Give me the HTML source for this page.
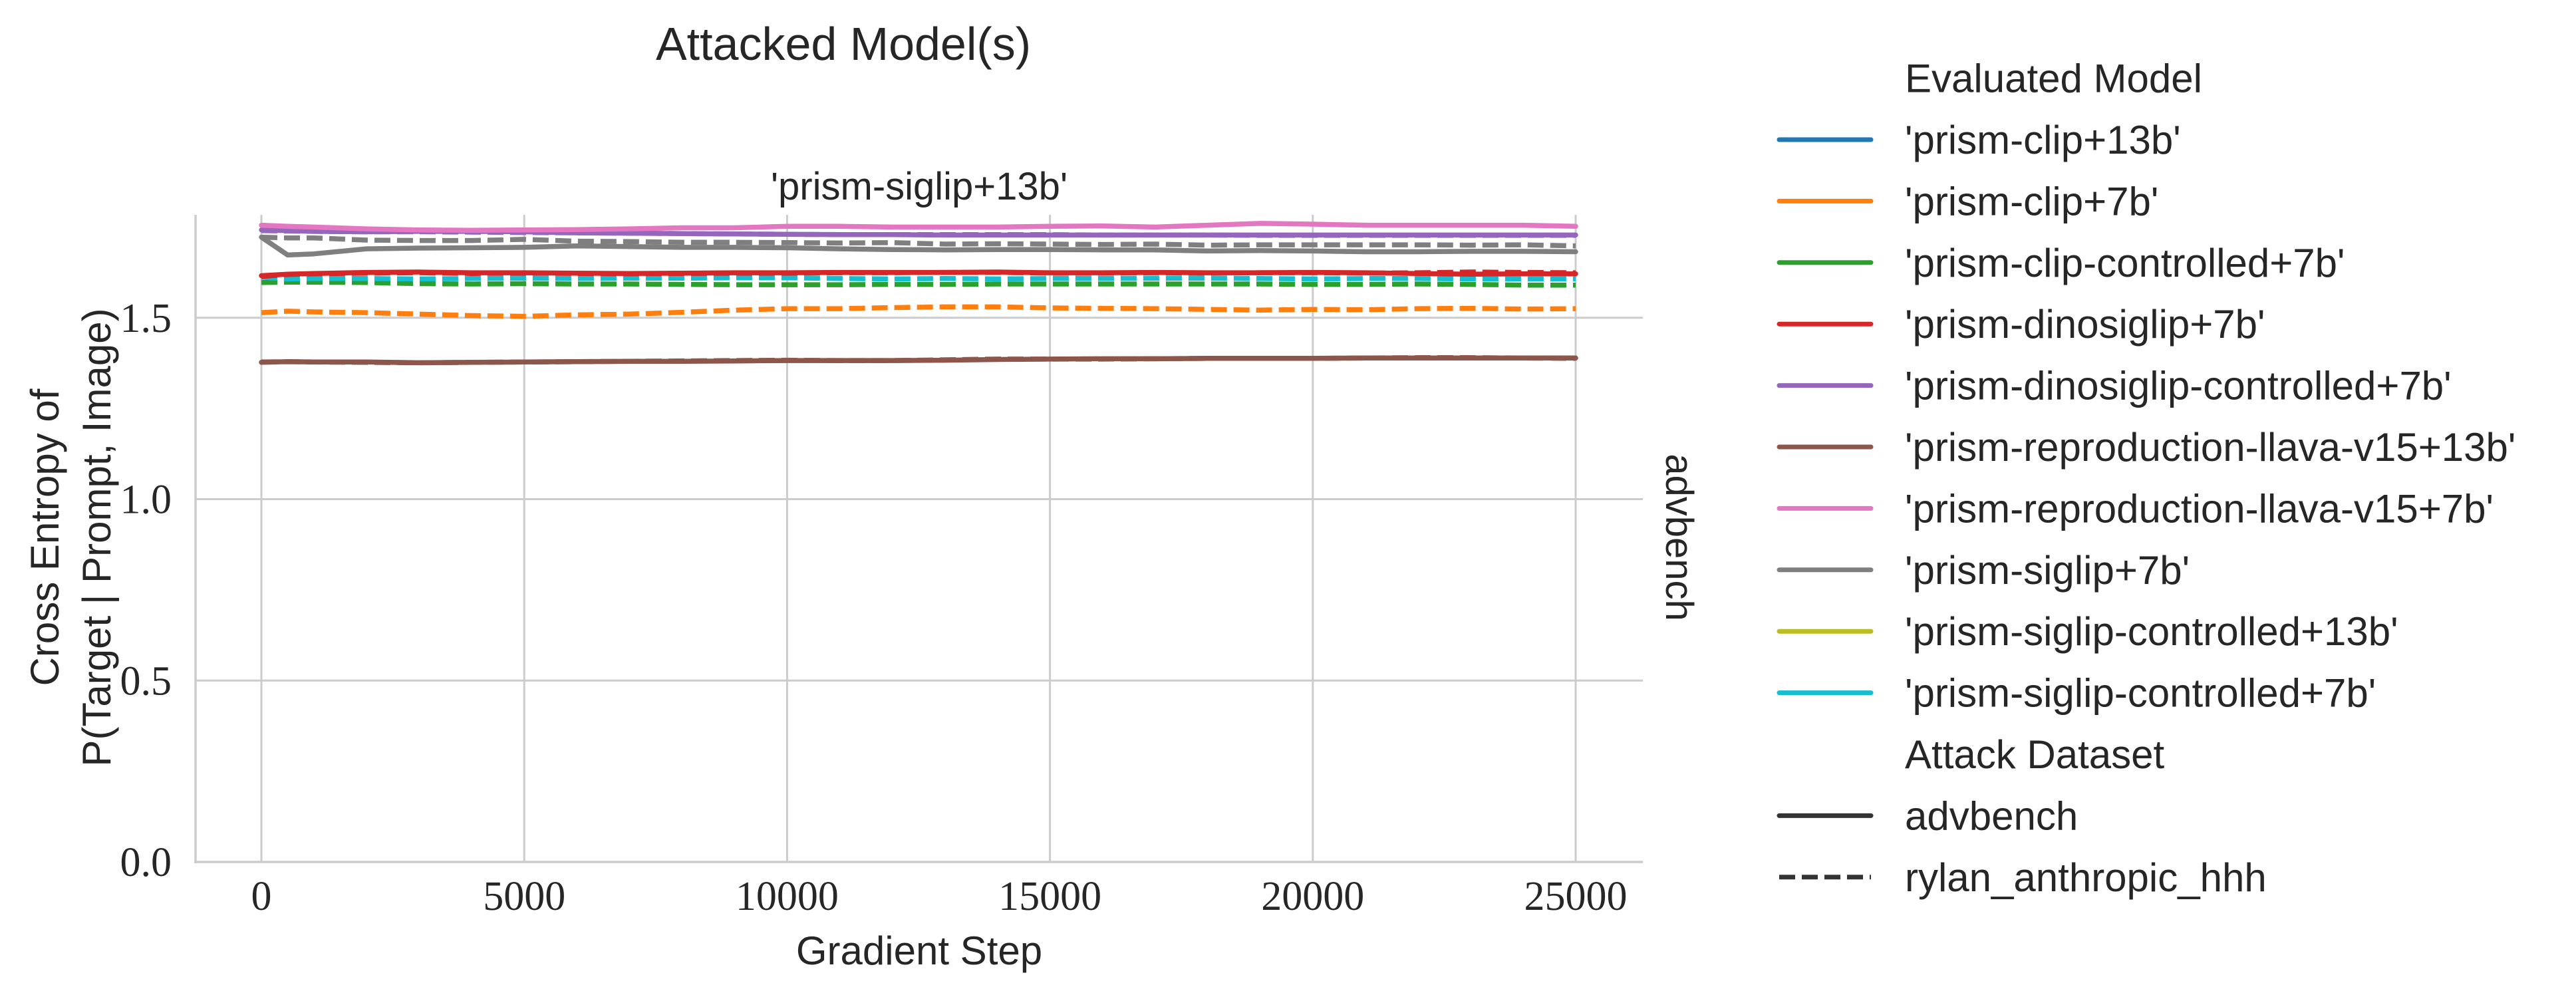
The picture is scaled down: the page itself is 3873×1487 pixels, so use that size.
<!DOCTYPE html>
<html><head><meta charset="utf-8"><style>
html,body{margin:0;padding:0;background:#fff}
svg{display:block}
.sans{font-family:"Liberation Sans",sans-serif;fill:#262626}
.serif{font-family:"Liberation Serif",serif;fill:#262626}
</style></head><body>
<svg id="chart" width="3873" height="1487" viewBox="0 0 3873 1487" xmlns="http://www.w3.org/2000/svg">
<text class="sans" x="1268" y="90" font-size="70" text-anchor="middle">Attacked Model(s)</text>
<text class="sans" x="1382" y="300" font-size="58" text-anchor="middle">'prism-siglip+13b'</text>
<g id="grid"></g>
<g id="series"></g>
<g id="axes"></g>
<text class="sans" x="1382" y="1450" font-size="60" text-anchor="middle">Gradient Step</text>
<g transform="translate(88,808) rotate(-90)">
<text class="sans" x="0" y="0" font-size="60" text-anchor="middle">Cross Entropy of</text>
<text class="sans" x="0" y="78" font-size="60" text-anchor="middle">P(Target | Prompt, Image)</text>
</g>
<text class="sans" transform="translate(2505,808) rotate(90)" font-size="58" text-anchor="middle">advbench</text>
<g id="legend"></g>
</svg>
<script>
const steps=[0,500,1000,2000,3000,4000,5000,6000,7000,8000,9000,10000,11000,12000,13000,14000,15000,16000,17000,18000,19000,20000,21000,22000,23000,24000,25000];
const xTicks=[0,5000,10000,15000,20000,25000];
const yTicks=[0.0,0.5,1.0,1.5];
const pinkAdv=[1.755,1.752,1.750,1.745,1.742,1.741,1.742,1.743,1.745,1.748,1.748,1.752,1.752,1.750,1.750,1.750,1.752,1.753,1.750,1.755,1.760,1.758,1.755,1.755,1.755,1.755,1.752];
const purpleAdv=[1.742,1.740,1.738,1.737,1.738,1.738,1.737,1.734,1.733,1.732,1.731,1.730,1.729,1.729,1.728,1.728,1.728,1.728,1.728,1.728,1.728,1.728,1.728,1.728,1.728,1.728,1.728];
const purpleHhh=[1.740,1.739,1.738,1.737,1.737,1.736,1.735,1.734,1.733,1.732,1.731,1.730,1.729,1.729,1.729,1.729,1.729,1.728,1.728,1.728,1.727,1.727,1.727,1.727,1.727,1.727,1.727];
const grayHhh=[1.722,1.720,1.720,1.714,1.713,1.713,1.716,1.711,1.710,1.708,1.708,1.707,1.706,1.707,1.703,1.704,1.703,1.702,1.703,1.700,1.701,1.701,1.701,1.701,1.700,1.701,1.698];
const grayAdv=[1.722,1.673,1.676,1.690,1.692,1.693,1.694,1.698,1.696,1.694,1.694,1.693,1.690,1.688,1.687,1.688,1.688,1.687,1.687,1.684,1.685,1.684,1.682,1.682,1.683,1.683,1.682];
const redAdv=[1.616,1.620,1.622,1.625,1.626,1.624,1.624,1.623,1.622,1.623,1.624,1.624,1.625,1.625,1.625,1.626,1.624,1.624,1.625,1.624,1.624,1.625,1.624,1.622,1.620,1.621,1.621];
const redHhh=[1.614,1.619,1.621,1.623,1.624,1.622,1.623,1.622,1.621,1.622,1.623,1.623,1.624,1.624,1.625,1.625,1.623,1.623,1.624,1.623,1.624,1.624,1.623,1.624,1.626,1.625,1.624];
const cyanHhh=[1.612,1.607,1.608,1.608,1.607,1.608,1.609,1.608,1.609,1.609,1.610,1.610,1.608,1.607,1.608,1.607,1.608,1.608,1.609,1.609,1.608,1.607,1.608,1.608,1.607,1.607,1.607];
const greenHhh=[1.597,1.598,1.598,1.597,1.594,1.593,1.594,1.593,1.593,1.592,1.591,1.591,1.591,1.592,1.592,1.593,1.593,1.593,1.593,1.593,1.593,1.592,1.592,1.593,1.592,1.590,1.590];
const orangeHhh=[1.514,1.518,1.516,1.514,1.510,1.506,1.504,1.508,1.510,1.515,1.521,1.525,1.525,1.528,1.530,1.530,1.527,1.526,1.525,1.523,1.521,1.523,1.522,1.525,1.526,1.524,1.525];
const brownAdv=[1.377,1.379,1.378,1.378,1.376,1.377,1.378,1.379,1.380,1.380,1.381,1.382,1.382,1.382,1.383,1.385,1.386,1.387,1.387,1.388,1.388,1.388,1.389,1.389,1.389,1.389,1.389];
const brownHhh=[1.378,1.379,1.378,1.377,1.376,1.377,1.378,1.379,1.380,1.381,1.382,1.383,1.382,1.382,1.384,1.386,1.386,1.386,1.387,1.388,1.388,1.388,1.389,1.390,1.390,1.389,1.388];
const legendModels=["'prism-clip+13b'","'prism-clip+7b'","'prism-clip-controlled+7b'","'prism-dinosiglip+7b'","'prism-dinosiglip-controlled+7b'","'prism-reproduction-llava-v15+13b'","'prism-reproduction-llava-v15+7b'","'prism-siglip+7b'","'prism-siglip-controlled+13b'","'prism-siglip-controlled+7b'"];
const legendColors=["#1f77b4","#ff7f0e","#2ca02c","#d62728","#9467bd","#8c564b","#e377c2","#7f7f7f","#bcbd22","#17becf"];

const NS="http://www.w3.org/2000/svg";
const X0=393,X1=2369,Y0=1296,YS=545.5;
function xs(s){return X0+s*(X1-X0)/25000;}
function ys(v){return Y0-v*YS;}
function mk(tag,attrs,parent){const e=document.createElementNS(NS,tag);for(const k in attrs)e.setAttribute(k,attrs[k]);parent.appendChild(e);return e;}
const grid=document.getElementById('grid'),axes=document.getElementById('axes'),ser=document.getElementById('series'),leg=document.getElementById('legend');
xTicks.forEach(t=>{
  const l=mk('line',{x1:xs(t),x2:xs(t),y1:323,y2:Y0,stroke:'#cccccc','stroke-width':3},grid);
  
  
  const tx=mk('text',{x:xs(t),y:1368,'font-size':62,'text-anchor':'middle',class:'serif'},axes);
  tx.textContent=String(t);
  
  
});
yTicks.forEach(t=>{
  const l=mk('line',{x1:294,x2:2470,y1:ys(t),y2:ys(t),stroke:'#cccccc','stroke-width':3},grid);
  
  
  const tx=mk('text',{x:258,y:ys(t)+21,'font-size':62,'text-anchor':'end',class:'serif'},axes);
  tx.textContent=t.toFixed(1);
  
  
});
const ls=mk('line',{x1:294,x2:294,y1:323,y2:Y0+2,stroke:'#cccccc','stroke-width':3.5},axes);


const bs=mk('line',{x1:292,x2:2470,y1:Y0,y2:Y0,stroke:'#cccccc','stroke-width':3.5},axes);



function draw(vals,color,dashed,name){
  const d=vals.map((v,i)=>(i?'L':'M')+xs(steps[i]).toFixed(1)+','+ys(v).toFixed(1)).join(' ');
  const p=mk('path',{d:d,fill:'none',stroke:color,'stroke-width':7.5,'stroke-linejoin':'round','stroke-linecap':dashed?'butt':'round'},ser);
  if(dashed)p.setAttribute('stroke-dasharray','24 10');
  
  
}
draw(brownAdv,'#8c564b',false,'line-llava13b-advbench');
draw(brownHhh,'#8c564b',true,'line-llava13b-hhh');
draw(orangeHhh,'#ff7f0e',true,'line-clip7b-hhh');
draw(greenHhh,'#2ca02c',true,'line-clipcontrolled7b-hhh');
draw(cyanHhh,'#17becf',true,'line-siglipcontrolled7b-hhh');
draw(redAdv,'#d62728',false,'line-dinosiglip7b-advbench');
draw(redHhh,'#d62728',true,'line-dinosiglip7b-hhh');
draw(grayAdv,'#7f7f7f',false,'line-siglip7b-advbench');
draw(grayHhh,'#7f7f7f',true,'line-siglip7b-hhh');
draw(purpleAdv,'#9467bd',false,'line-dinosiglipcontrolled7b-advbench');
draw(purpleHhh,'#9467bd',true,'line-dinosiglipcontrolled7b-hhh');
draw(pinkAdv,'#e377c2',false,'line-llava7b-advbench');

const LX1=2675,LX2=2813,TX=2864,R0=210,RS=92.4;
function ltext(txt,y,name){
  const t=mk('text',{x:TX,y:y+21,'font-size':60,class:'sans'},leg);
  t.textContent=txt;
  
  
}
ltext('Evaluated Model',R0-RS,'legend-title-model');
legendModels.forEach((m,i)=>{
  const y=R0+RS*i;
  const l=mk('line',{x1:LX1,x2:LX2,y1:y,y2:y,stroke:legendColors[i],'stroke-width':7,'stroke-linecap':'round'},leg);
  
  
  ltext(m,y,'legend-entry');
});
ltext('Attack Dataset',R0+RS*10,'legend-title-dataset');
const la=mk('line',{x1:LX1,x2:LX2,y1:R0+RS*11,y2:R0+RS*11,stroke:'#333333','stroke-width':7,'stroke-linecap':'round'},leg);


ltext('advbench',R0+RS*11,'legend-entry-advbench');
const lr=mk('line',{x1:LX1,x2:LX2,y1:R0+RS*12,y2:R0+RS*12,stroke:'#333333','stroke-width':7,'stroke-dasharray':'24 10'},leg);


ltext('rylan_anthropic_hhh',R0+RS*12,'legend-entry-hhh');
</script>
</body></html>
